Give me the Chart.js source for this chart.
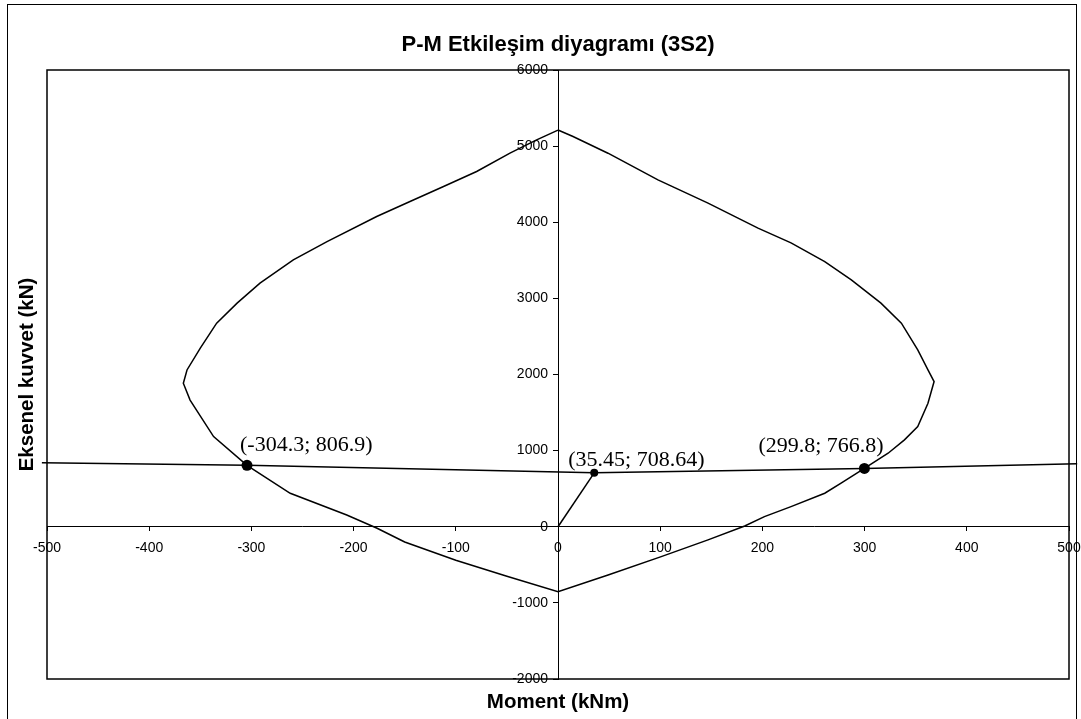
<!DOCTYPE html>
<html>
<head>
<meta charset="utf-8">
<script src="https://cdn.jsdelivr.net/npm/chart.js@4.4.1/dist/chart.umd.min.js"></script>
<style>
  html, body { margin: 0; padding: 0; background: #fff; }
  #wrap { position: relative; width: 1081px; height: 719px; overflow: hidden; }
  #frame { position: absolute; left: 7px; top: 4px; width: 1070px; height: 730px; border: 1px solid #000; box-sizing: border-box; }
  canvas { position: absolute; left: 0; top: 0; }
</style>
</head>
<body>
<div id="wrap">
  <div id="frame"></div>
  <canvas id="c" width="1081" height="719"></canvas>
</div>
<script>
// ---- data ----
const titleText = 'P-M Etkileşim diyagramı (3S2)';
const xTitle = 'Moment (kNm)';
const yTitle = 'Eksenel kuvvet (kN)';

const xTickValues = [-500, -400, -300, -200, -100, 0, 100, 200, 300, 400, 500];
const yTickValues = [-2000, -1000, 0, 1000, 2000, 3000, 4000, 5000, 6000];

// interaction curve (closed loop), moment M (kNm) and axial P (kN)
const curveM = [0, 14.7, 48.9, 97.8, 146.8, 195.7, 228, 261, 287, 316, 336, 352, 362, 368,
  362, 352, 339, 323, 299.8, 277, 261, 228, 202, 182.7, 146.8, 101, 49, 0,
  -50, -100, -150, -177, -206.7, -262, -304.3, -337, -360, -366.6,
  -363, -350, -334, -314, -291.6, -259, -226, -177.4, -144.8, -112, -79.6, -47, -20.9, 0];
const curveP = [5211, 5126, 4907, 4557, 4251, 3922, 3729, 3484, 3243, 2937, 2674, 2323, 2060, 1907,
  1623, 1315, 1141, 966, 766.8, 572, 440, 264, 133, 10, -173, -393, -633, -853,
  -650, -440, -200, -20, 155, 440, 806.9, 1184, 1664, 1886,
  2060, 2346, 2674, 2937, 3200, 3506, 3746, 4075, 4272, 4469, 4667, 4907, 5083, 5211];

// demand line
const lineM = [-505, -304.3, 35.45, 299.8, 508];
const lineP = [842, 806.9, 708.64, 766.8, 829];

// loading path from origin
const pathM = [0, 35.45];
const pathP = [0, 708.64];

// marked points
const bigM = [-304.3, 299.8];
const bigP = [806.9, 766.8];
const smallM = [35.45];
const smallP = [708.64];

const labelTexts = ['(-304.3; 806.9)', '(35.45; 708.64)', '(299.8; 766.8)'];
const labelM = [-304.3, 35.45, 299.8];
const labelP = [806.9, 708.64, 766.8];

// ---- build ----
const zip = (a, b) => a.map((v, i) => ({ x: v, y: b[i] }));
const labelOffsets = [[-7, -14], [-26, -7], [-106, -16]];
const tickFont = '14px "Liberation Sans", Arial, sans-serif';

const textPlugin = {
  id: 'texts',
  afterDraw(chart) {
    const ctx = chart.ctx;
    const ca = chart.chartArea;
    const xs = chart.scales.x, ys = chart.scales.y;
    ctx.save();
    // plot-area frame
    ctx.strokeStyle = '#000';
    ctx.lineWidth = 1.5;
    ctx.strokeRect(ca.left, ca.top, ca.right - ca.left, ca.bottom - ca.top);
    ctx.fillStyle = '#000';
    // y tick labels (from the y scale's ticks), set off to the left of the centred axis
    ctx.font = tickFont;
    ctx.textAlign = 'right';
    ctx.textBaseline = 'middle';
    const axisX = xs.getPixelForValue(0);
    ys.ticks.forEach(t => {
      ctx.fillText(String(t.value), axisX - 10, ys.getPixelForValue(t.value));
    });
    // title
    ctx.font = 'bold 22px "Liberation Sans", Arial, sans-serif';
    ctx.textAlign = 'center';
    ctx.textBaseline = 'middle';
    ctx.fillText(titleText, (ca.left + ca.right) / 2, 45);
    // x title
    ctx.font = 'bold 20.5px "Liberation Sans", Arial, sans-serif';
    ctx.fillText(xTitle, (ca.left + ca.right) / 2, 702);
    // y title
    ctx.save();
    ctx.translate(27, (ca.top + ca.bottom) / 2);
    ctx.rotate(-Math.PI / 2);
    ctx.fillText(yTitle, 0, 0);
    ctx.restore();
    // point labels
    ctx.font = '22px "Liberation Serif", "Times New Roman", serif';
    ctx.textAlign = 'left';
    ctx.textBaseline = 'alphabetic';
    labelTexts.forEach((t, i) => {
      const px = xs.getPixelForValue(labelM[i]);
      const py = ys.getPixelForValue(labelP[i]);
      ctx.fillText(t, px + labelOffsets[i][0], py + labelOffsets[i][1]);
    });
    ctx.restore();
  }
};

new Chart(document.getElementById('c'), {
  type: 'scatter',
  data: {
    datasets: [
      { data: zip(curveM, curveP), showLine: true, borderColor: '#000', borderWidth: 1.5, pointRadius: 0, tension: 0, fill: false },
      { data: zip(lineM, lineP), showLine: true, borderColor: '#000', borderWidth: 1.5, pointRadius: 0, clip: false },
      { data: zip(pathM, pathP), showLine: true, borderColor: '#000', borderWidth: 1.5, pointRadius: 0 },
      { data: zip(bigM, bigP), showLine: false, pointRadius: 5.5, backgroundColor: '#000', borderColor: '#000', borderWidth: 0 },
      { data: zip(smallM, smallP), showLine: false, pointRadius: 4, backgroundColor: '#000', borderColor: '#000', borderWidth: 0 }
    ]
  },
  options: {
    responsive: false,
    animation: false,
    devicePixelRatio: 1,
    layout: { padding: { left: 47, top: 70, right: 12, bottom: 40 } },
    plugins: { legend: { display: false }, tooltip: { enabled: false }, title: { display: false } },
    scales: {
      x: {
        type: 'linear', min: -500, max: 500,
        position: { y: 0 },
        afterBuildTicks: s => { s.ticks = xTickValues.map(v => ({ value: v })); },
        afterFit: s => { s.paddingLeft = 0; s.paddingRight = 0; },
        grid: { display: true, drawOnChartArea: false, drawTicks: true, tickLength: 4, color: '#000' },
        border: { display: true, color: '#000', width: 1 },
        ticks: { color: '#000', font: { family: '"Liberation Sans", Arial, sans-serif', size: 14 }, maxRotation: 0, autoSkip: false, padding: 9, callback: v => String(v) }
      },
      y: {
        type: 'linear', min: -2000, max: 6000,
        position: { x: 0 },
        afterBuildTicks: s => { s.ticks = yTickValues.map(v => ({ value: v })); },
        afterFit: s => { s.paddingTop = 0; s.paddingBottom = 0; },
        grid: { display: true, drawOnChartArea: false, drawTicks: true, tickLength: 5, color: '#000' },
        border: { display: true, color: '#000', width: 1 },
        ticks: { display: false }
      }
    }
  },
  plugins: [textPlugin]
});
</script>
</body>
</html>
